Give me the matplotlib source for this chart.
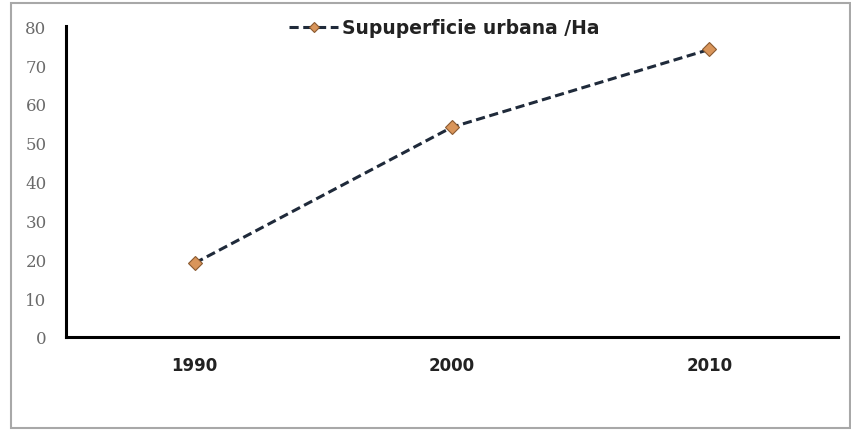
import matplotlib.pyplot as plt
from matplotlib.patches import Rectangle

years = ['1990', '2000', '2010']
superficie = [19, 54, 74]
y_ticks = [0, 10, 20, 30, 40, 50, 60, 70, 80]

fig = plt.figure(figsize=(8.51, 4.31), dpi=100)
ax = fig.add_axes([0.0776, 0.2158, 0.907, 0.7212])

x = range(len(years))
ax.plot(x, superficie, linestyle='--', color='#1f2a3a', linewidth=2.2, dashes=(3, 1.5),
        marker='D', markersize=7, markerfacecolor='#d9955a', markeredgecolor='#8a5a30',
        markeredgewidth=0.8, label='Supuperficie urbana /Ha')

ax.set_xlim(-0.5, 2.5)
ax.set_ylim(0, 80)
ax.set_xticks(list(x))
ax.set_xticklabels(years, fontsize=12, fontweight='bold', family='DejaVu Sans', color='#222222')
ax.set_yticks(y_ticks)
ax.set_yticklabels([str(v) for v in y_ticks], fontsize=12, color='#6a6a6a', family='DejaVu Serif')
ax.tick_params(axis='both', length=0)
ax.tick_params(axis='x', pad=14)
ax.tick_params(axis='y', pad=14)

for side in ['top', 'right']:
    ax.spines[side].set_visible(False)
ax.spines['left'].set_linewidth(2.2)
ax.spines['bottom'].set_linewidth(2.2)

leg = ax.legend(loc='upper center', bbox_to_anchor=(0.49, 1.08), frameon=False,
                prop={'family': 'DejaVu Sans', 'weight': 'bold', 'size': 13.5},
                handlelength=2.6, handletextpad=0.2, markerscale=0.8)
for t in leg.get_texts():
    t.set_color('#222222')

# outer frame of the chart area
fig.patches.append(Rectangle((11 / 851, 2 / 431), 839 / 851, 425 / 431,
                             transform=fig.transFigure, fill=False,
                             edgecolor='#a8a8a8', linewidth=1.5))

fig.savefig('out.png', dpi=100)
